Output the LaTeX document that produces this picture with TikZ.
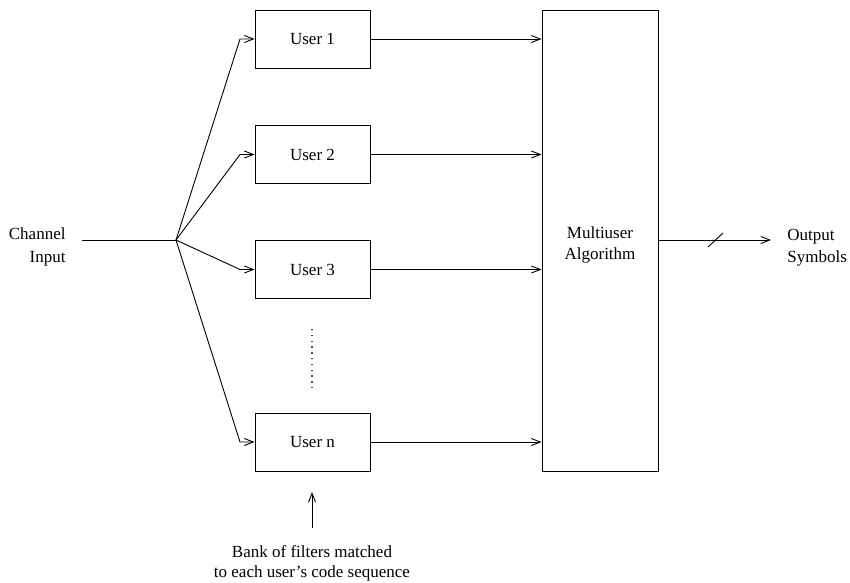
\documentclass[tikz,border=0pt]{standalone}
\usepackage{fontspec}
\setmainfont{Liberation Serif}
\usetikzlibrary{arrows.meta}
\begin{document}
\begin{tikzpicture}[x=1pt,y=-1pt,
  line width=0.9pt,
  font=\fontsize{17}{20}\selectfont,
  tip/.style={-{Straight Barb[length=9pt,width=7pt,line width=0.9pt]}},
  userbox/.style={draw,minimum width=115pt,minimum height=58pt,inner sep=0pt},
  label/.style={align=center,inner sep=0pt}]
\useasboundingbox (0,0) rectangle (850,582);

% filter bank
\node[userbox] (u1) at (312.5,39)   {User 1};
\node[userbox] (u2) at (312.5,154.5) {User 2};
\node[userbox] (u3) at (312.5,269.5) {User 3};
\node[userbox] (un) at (312.5,442)  {User n};

% multiuser detector
\node[draw,minimum width=116pt,minimum height=461pt,inner sep=0pt] (mu) at (600,240.5) {};
\node[label,font=\fontsize{17}{21}\selectfont] (mut) at (600,245) {Multiuser\\Algorithm};

% input side
\node[align=right,inner sep=0pt,anchor=east,font=\fontsize{17}{23}\selectfont]
  (chan) at (66,247) {Channel\\Input};
\coordinate (cin) at (82,240);
\coordinate (hub) at (176,240);
\coordinate (bend) at (240,0);
\draw (cin) -- (hub);
\foreach \u in {u1,u2,u3,un}
  \draw[tip] (hub) -- (bend |- \u.west) -- (\u.west);

% filter outputs into the detector
\foreach \u in {u1,u2,u3,un}
  \draw[tip] (\u.east) -- (\u.east -| mu.west);

% dots between User 3 and User n
\foreach \k in {0,...,10}
  \fill[black!70] (311.4,329+5.8*\k) rectangle ++(1.3,1.3);

% output
\coordinate (oend) at (771,240);
\draw[tip] (mu.east |- oend) -- (oend);
\draw (708,247) -- (723,233);
\node[align=left,inner sep=0pt,anchor=west,font=\fontsize{17}{22}\selectfont]
  (outl) at (787,248) {Output\\Symbols};

% filter-bank annotation
\node[label] (bank) at (312,563) {Bank of filters matched\\to each user’s code sequence};
\coordinate (bs) at (312,528);
\coordinate (bt) at (312,492);
\draw[tip] (bs) -- (bt);
\end{tikzpicture}
\end{document}
